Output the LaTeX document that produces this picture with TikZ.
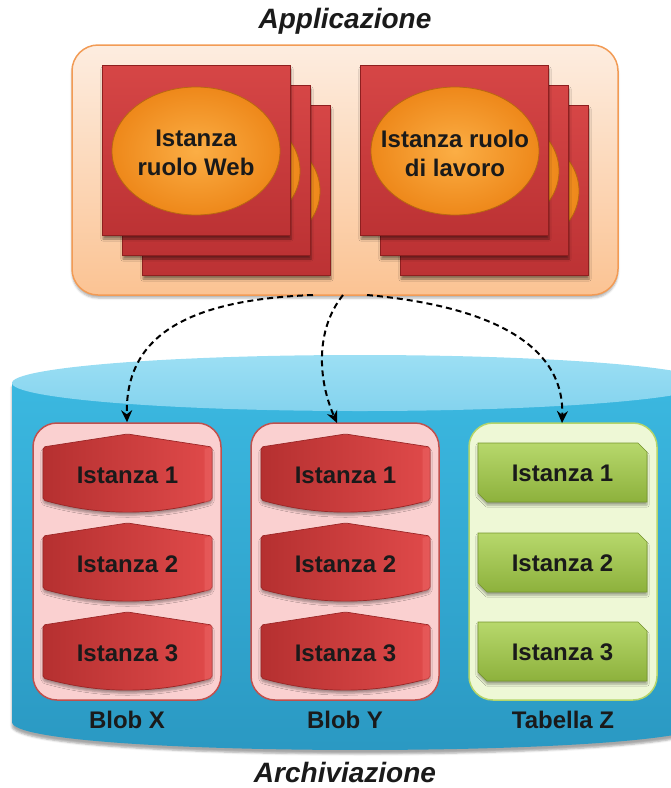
\documentclass[tikz,border=0pt]{standalone}
\usepackage{fontspec}
\setmainfont{Liberation Sans}
\usetikzlibrary{arrows.meta,shapes.geometric,shadows.blur}

\definecolor{appTop}{HTML}{FDEDE0}
\definecolor{appBot}{HTML}{FBC393}
\definecolor{appLine}{HTML}{F29B55}
\definecolor{sqTop}{HTML}{D64646}
\definecolor{sqBot}{HTML}{BC3234}
\definecolor{sqLine}{HTML}{8E1F1F}
\definecolor{ellIn}{HTML}{FBAE45}
\definecolor{ellOut}{HTML}{EE881A}
\definecolor{ellLine}{HTML}{B86810}
\definecolor{cylTop}{HTML}{3BB8E0}
\definecolor{cylBot}{HTML}{2A98C2}
\definecolor{capTop}{HTML}{9CDFF4}
\definecolor{capBot}{HTML}{84D3EE}
\definecolor{blobFill}{HTML}{FAD0D0}
\definecolor{blobLine}{HTML}{C0504D}
\definecolor{tabFill}{HTML}{EEF8D6}
\definecolor{tabLine}{HTML}{B5D56A}
\definecolor{ritL}{HTML}{B53030}
\definecolor{ritR}{HTML}{E04A4A}
\definecolor{ritLine}{HTML}{9A2626}
\definecolor{ritBev}{HTML}{EE6A6A}
\definecolor{gitTop}{HTML}{B7D86C}
\definecolor{gitBot}{HTML}{8DB13C}
\definecolor{gitLine}{HTML}{76962E}
\definecolor{txt}{HTML}{1A1A1A}

\newcommand\myritem[4]{%
  \path[redshape] ({#1-84.5},{#2+13}) -- (#1,#2) -- ({#1+84.5},{#2+13}) -- ({#1+84.5},{#2+66})
     .. controls ({#1+28},{#2+82}) and ({#1-28},{#2+82}) .. ({#1-84.5},{#2+66}) -- cycle;
  \fill[ritBev, opacity=0.45] ({#1+77},{#2+15}) -- ({#1+84.5},{#2+13}) -- ({#1+84.5},{#2+66}) -- ({#1+77},{#2+69}) -- cycle;
  \node[itemtxt] (#3) at (#1,{#2+41}) {#4};}
\newcommand\mygitem[3]{%
  \path[greenshape] (478,#1) -- (638,#1) -- (647,{#1+9}) -- (647,{#1+59}) -- (487,{#1+59}) -- (478,{#1+50}) -- cycle;
  \node[itemtxt] (#2) at (562.5,{#1+30}) {#3};}

\begin{document}
\begin{tikzpicture}[x=1pt,y=-1pt,
  sqbox/.style={rectangle, minimum width=188pt, minimum height=170pt, inner sep=0pt,
     top color=sqTop, bottom color=sqBot, draw=sqLine, line width=0.8pt,
     blur shadow={shadow xshift=1pt, shadow yshift=-4pt, shadow opacity=45}},
  ellbox/.style={ellipse, minimum width=168pt, minimum height=128pt, inner sep=0pt,
     inner color=ellIn, outer color=ellOut, draw=ellLine, line width=0.8pt},
  elltxt/.style={font=\fontsize{24}{29}\selectfont\bfseries, text=txt, align=center},
  itemtxt/.style={font=\fontsize{24}{29}\selectfont\bfseries, text=txt},
  lbl/.style={font=\fontsize{24}{29}\selectfont\bfseries, text=txt},
  ttl/.style={font=\fontsize{28}{32}\selectfont\bfseries\itshape, text=txt},
  contbox/.style={rectangle, rounded corners=24pt, minimum width=188pt, minimum height=277pt,
     line width=1.5pt, inner sep=0pt},
  redshape/.style={left color=ritL, right color=ritR, draw=ritLine, line width=0.7pt,
     rounded corners=2pt,
     blur shadow={shadow xshift=0pt, shadow yshift=-3pt, shadow opacity=35}},
  greenshape/.style={top color=gitTop, bottom color=gitBot, draw=gitLine, line width=0.7pt,
     blur shadow={shadow xshift=0pt, shadow yshift=-3pt, shadow opacity=35}},
  conn/.style={line width=2pt, dash pattern=on 6pt off 4pt,
     -{Stealth[length=12pt,width=11pt,inset=4pt]}}]

\useasboundingbox (0,0) rectangle (671,788);
\clip (0,0) rectangle (671,788);

% titles
\node[ttl] (tapp) at (345,21) {Applicazione};
\node[ttl] (tarc) at (345,772) {Archiviazione};

% application box
\node[rectangle, rounded corners=26pt, minimum width=546pt, minimum height=250pt,
      top color=appTop, bottom color=appBot, draw=appLine, line width=1.5pt,
      blur shadow={shadow xshift=0pt, shadow yshift=-3pt, shadow opacity=30}]
      (app) at (345,170) {};

% web role instances
\foreach \k in {2,1,0} {
  \node[sqbox] (ws\k) at ({196+20*\k},{150+20*\k}) {};
  \node[ellbox] (we\k) at ({196+20*\k},{151+20*\k}) {};
}
\node[elltxt] (wt) at (196,153) {Istanza\\ruolo Web};

% worker role instances
\foreach \k in {2,1,0} {
  \node[sqbox] (rs\k) at ({454+20*\k},{150+20*\k}) {};
  \node[ellbox] (re\k) at ({455+20*\k},{151+20*\k}) {};
}
\node[elltxt] (rt) at (455,153) {Istanza ruolo\\di lavoro};

% storage cylinder
\path[top color=cylTop, bottom color=cylBot,
      blur shadow={shadow xshift=0pt, shadow yshift=-4pt, shadow opacity=35}]
   (12,383) -- (12,722) .. controls (12,759.3) and (708,759.3) .. (708,722) -- (708,383) -- cycle;
\path[top color=capTop, bottom color=capBot] (360,383) ellipse [x radius=348, y radius=28];
\coordinate (cyl) at (360,383);

% containers
\node[contbox, fill=blobFill, draw=blobLine] (bx) at (127,561.5) {};
\node[contbox, fill=blobFill, draw=blobLine] (by) at (345,561.5) {};
\node[contbox, fill=tabFill, draw=tabLine] (tz) at (563,561.5) {};

\myritem{127.5}{434}{bx1}{Istanza 1}
\myritem{127.5}{523}{bx2}{Istanza 2}
\myritem{127.5}{612}{bx3}{Istanza 3}
\myritem{345.5}{434}{by1}{Istanza 1}
\myritem{345.5}{523}{by2}{Istanza 2}
\myritem{345.5}{612}{by3}{Istanza 3}
\mygitem{443}{tz1}{Istanza 1}
\mygitem{533}{tz2}{Istanza 2}
\mygitem{622}{tz3}{Istanza 3}

\node[lbl] (bxl) at (127,720) {Blob X};
\node[lbl] (byl) at (345,720) {Blob Y};
\node[lbl] (tzl) at (563,720) {Tabella Z};

% connectors
\coordinate (s1) at (313,295);
\coordinate (s2) at (343,295);
\coordinate (s3) at (367,295);
\coordinate (e2) at (337,423);
\coordinate (e3) at (562,423);
\draw[conn] (s1) .. controls (180,300) and (125,340) .. (bx.north);
\draw[conn] (s2) .. controls (315,330) and (318,380) .. (e2);
\draw[conn] (s3) .. controls (480,305) and (565,340) .. (e3);
\end{tikzpicture}
\end{document}
